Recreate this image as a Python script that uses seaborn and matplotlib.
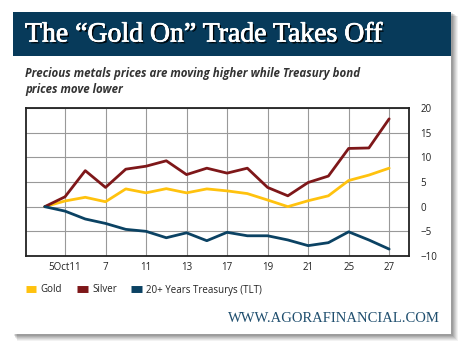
import numpy as np
import pandas as pd
import seaborn as sns
import matplotlib.pyplot as plt
import matplotlib.patches as patches
import matplotlib.patheffects as pe
from matplotlib.lines import Line2D

sns.set_style('white')
plt.rcParams['font.family'] = ['Open Sans', 'DejaVu Sans']

# trading days, 4 Oct 2011 .. 27 Oct 2011 (percent change since 4 Oct)
days = ['4', '5Oct11', '6', '7', '10', '11', '12', '13', '14', '17',
        '18', '19', '20', '21', '24', '25', '26', '27']
gold = [0, 1.15, 1.9, 1.0, 3.6, 2.8, 3.65, 2.8, 3.6, 3.2,
        2.65, 1.35, 0.0, 1.2, 2.2, 5.3, 6.4, 7.8]
silver = [0, 2.0, 7.3, 3.9, 7.6, 8.2, 9.3, 6.5, 7.8, 6.8,
          7.8, 3.9, 2.2, 4.9, 6.2, 11.8, 11.9, 17.8]
tlt = [0, -0.9, -2.5, -3.4, -4.6, -5.0, -6.3, -5.3, -6.9, -5.2,
       -5.9, -5.9, -6.75, -7.9, -7.3, -5.1, -6.75, -8.6]
series_names = ['Gold', 'Silver', '20+ Years Treasurys (TLT)']
colors = ['#FFC20E', '#7E1719', '#0B4263']

df = pd.DataFrame({'pos': list(range(len(days))) * 3,
                   'value': gold + silver + tlt,
                   'series': np.repeat(series_names, len(days))})

fig = plt.figure(figsize=(4.7, 3.55), dpi=100)
W, H = 470.0, 355.0

def box(x0, y0, x1, y1):
    # pixel box (top-left origin) -> figure fraction rect
    return (x0 / W, 1 - y1 / H), (x1 - x0) / W, (y1 - y0) / H

# drop shadow of the card
for i, a in enumerate([0.05, 0.06, 0.07, 0.08, 0.09, 0.1]):
    off = 7 - i
    xy, w, h = box(13 + off * 0.6, 12 + off * 0.6, 451 + off, 334 + off)
    fig.patches.append(patches.Rectangle(xy, w, h, transform=fig.transFigure,
                                         color='black', alpha=a, lw=0, zorder=0))
xy, w, h = box(13, 12, 451, 334)
fig.patches.append(patches.Rectangle(xy, w, h, transform=fig.transFigure,
                                     color='white', lw=0, zorder=1))
xy, w, h = box(13, 12, 451, 56)
fig.patches.append(patches.Rectangle(xy, w, h, transform=fig.transFigure,
                                     color='#073A5A', lw=0, zorder=2))

fig.text(25 / W, 1 - 35 / H, 'The \u201cGold On\u201d Trade Takes Off',
         family='Liberation Serif', fontsize=20, color='white', va='center',
         path_effects=[pe.withSimplePatchShadow(offset=(1.3, -1.3),
                                               shadow_rgbFace='black', alpha=0.9),
                       pe.Stroke(linewidth=0.5, foreground='white'), pe.Normal()])
fig.text(25 / W, 1 - 73 / H, 'Precious metals prices are moving higher while Treasury bond',
         fontsize=8.3, weight='bold', style='italic', color='#333333', va='center')
fig.text(25 / W, 1 - 89 / H, 'prices move lower',
         fontsize=8.3, weight='bold', style='italic', color='#333333', va='center')
fig.text(440 / W, 1 - 318 / H, 'WWW.AGORAFINANCIAL.COM', family='Liberation Serif',
         fontsize=10.5, color='#1F4E6E', ha='right', va='center')

ax = fig.add_axes([25.5 / W, 1 - 256 / H, (409 - 25.5) / W, (256 - 108) / H])
ax.set_zorder(3)
sns.lineplot(data=df, x='pos', y='value', hue='series', palette=colors,
             linewidth=2, ax=ax, legend=False)

ax.set_xlim(-0.95, 17.98)
ax.set_ylim(-10, 20)
ax.set_xticks(range(1, len(days), 2))
ax.set_xticklabels([days[i] for i in range(1, len(days), 2)])
ax.set_yticks(range(-10, 21, 5))
ax.yaxis.tick_right()
ax.tick_params(axis='both', length=0, labelsize=7, colors='#222222')
ax.tick_params(axis='y', pad=8)
ax.tick_params(axis='x', pad=4)
for lbl in ax.get_yticklabels():
    lbl.set_horizontalalignment('left')
ax.grid(True, color='#999999', linewidth=0.8)
ax.set_xlabel('')
ax.set_ylabel('')
for s in ax.spines.values():
    s.set_visible(True)
    s.set_color('#222222')
    s.set_linewidth(1.3)

handles = [Line2D([0], [0], color=c, lw=5, solid_capstyle='butt') for c in colors]
fig.legend(handles, series_names, loc='center left', bbox_to_anchor=(17 / W, 1 - 290 / H),
           ncol=3, frameon=False, fontsize=7, handlelength=1.1, handletextpad=0.45,
           columnspacing=1.5, labelcolor='#222222')

fig.savefig('out.png', dpi=100)
